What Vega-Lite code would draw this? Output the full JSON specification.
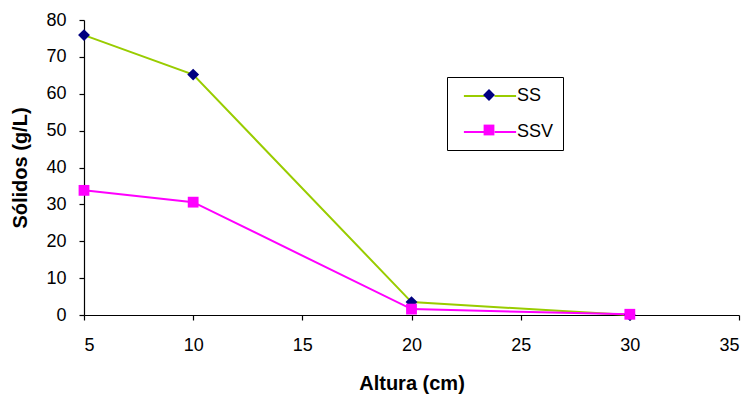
{
  "$schema": "https://vega.github.io/schema/vega-lite/v6.json",
  "width": 655,
  "height": 295,
  "autosize": "none",
  "padding": {"left": 84, "top": 20, "right": 14, "bottom": 83},
  "background": "white",
  "config": {
    "view": {"stroke": null},
    "font": "Liberation Sans",
    "axis": {
      "grid": false,
      "domainColor": "black",
      "tickColor": "black",
      "domainWidth": 1.2,
      "tickWidth": 1.2,
      "tickSize": 5,
      "labelColor": "black",
      "labelFont": "Liberation Sans",
      "labelFontSize": 18,
      "titleFont": "Liberation Sans",
      "titleFontSize": 20,
      "titleFontWeight": "bold",
      "titleColor": "black"
    }
  },
  "data": {
    "values": [
      {"altura": 5, "serie": "SS", "solidos": 75.9},
      {"altura": 10, "serie": "SS", "solidos": 65.2},
      {"altura": 20, "serie": "SS", "solidos": 3.5},
      {"altura": 30, "serie": "SS", "solidos": 0},
      {"altura": 5, "serie": "SSV", "solidos": 33.8},
      {"altura": 10, "serie": "SSV", "solidos": 30.6},
      {"altura": 20, "serie": "SSV", "solidos": 1.6},
      {"altura": 30, "serie": "SSV", "solidos": 0.2}
    ]
  },
  "encoding": {
    "x": {
      "field": "altura",
      "type": "quantitative",
      "scale": {"domain": [5, 35], "nice": false, "zero": false},
      "axis": {"values": [5, 10, 15, 20, 25, 30, 35], "title": "Altura (cm)", "labelPadding": 16, "titlePadding": 19}
    },
    "y": {
      "field": "solidos",
      "type": "quantitative",
      "scale": {"domain": [0, 80], "nice": false},
      "axis": {"values": [0, 10, 20, 30, 40, 50, 60, 70, 80], "title": "Sólidos (g/L)", "labelPadding": 13, "titlePadding": 15}
    }
  },
  "layer": [
    {
      "mark": {"type": "line", "strokeWidth": 2},
      "encoding": {
        "color": {
          "field": "serie",
          "type": "nominal",
          "scale": {"domain": ["SS", "SSV"], "range": ["#99CC00", "#FF00FF"]},
          "legend": {
            "orient": "none",
            "legendX": 363,
            "legendY": 57,
            "title": null,
            "symbolType": "M-2.9,0H-0.5M0.5,0H2.9",
            "symbolSize": 324,
            "symbolStrokeWidth": 2,
            "symbolOffset": 24,
            "padding": 9,
            "rowPadding": 17,
            "labelFont": "Liberation Sans",
            "labelFontSize": 18,
            "labelColor": "black",
            "labelOffset": 17,
            "strokeColor": "black"
          }
        }
      }
    },
    {
      "transform": [{"filter": "datum.serie === 'SS'"}],
      "mark": {"type": "point", "filled": true, "opacity": 1, "shape": "M0,-0.66L0.66,0L0,0.66L-0.66,0Z"},
      "encoding": {
        "color": {
          "field": "serie",
          "type": "nominal",
          "scale": {"domain": ["SS"], "range": ["#000080"]},
          "legend": {
            "orient": "none",
            "legendX": 363,
            "legendY": 57,
            "title": null,
            "symbolType": "M0,-0.66L0.66,0L0,0.66L-0.66,0Z",
            "symbolSize": 324,
            "symbolOffset": 24,
            "symbolStrokeWidth": 0,
            "padding": 9,
            "labelFontSize": 18,
            "labelOffset": 17,
            "labelExpr": "''"
          }
        },
        "size": {"value": 324}
      }
    },
    {
      "transform": [{"filter": "datum.serie === 'SSV'"}],
      "mark": {"type": "point", "filled": true, "opacity": 1, "shape": "M-0.6,-0.6H0.6V0.6H-0.6Z"},
      "encoding": {
        "color": {
          "field": "serie",
          "type": "nominal",
          "scale": {"domain": ["SSV"], "range": ["#FF00FF"]},
          "legend": {
            "orient": "none",
            "legendX": 363,
            "legendY": 92,
            "title": null,
            "symbolType": "M-0.6,-0.6H0.6V0.6H-0.6Z",
            "symbolSize": 324,
            "symbolOffset": 24,
            "symbolStrokeWidth": 0,
            "padding": 9,
            "labelFontSize": 18,
            "labelOffset": 17,
            "labelExpr": "''"
          }
        },
        "size": {"value": 324}
      }
    }
  ],
  "resolve": {"scale": {"color": "independent"}, "legend": {"color": "independent"}}
}
